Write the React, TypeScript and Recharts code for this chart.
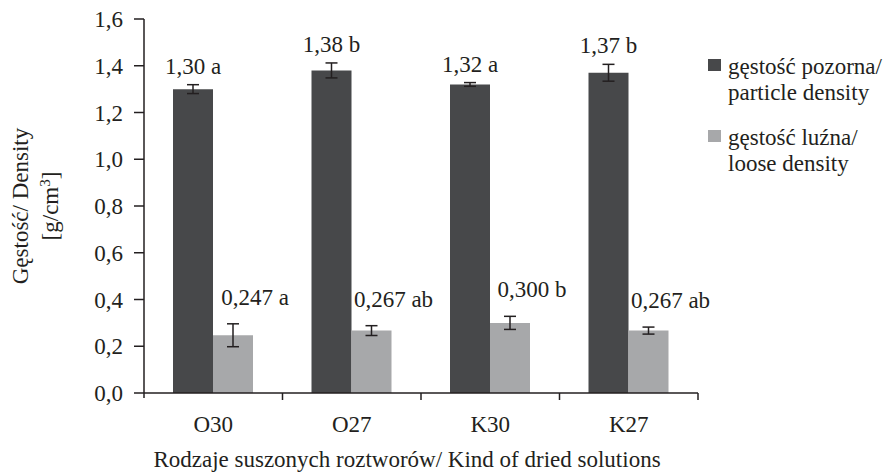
import { Bar, BarChart, ErrorBar, Label, LabelList, Legend, XAxis, YAxis } from 'recharts';

const CATEGORIES = ['O30', 'O27', 'K30', 'K27'];
const PARTICLE = [1.3, 1.38, 1.32, 1.37];
const PARTICLE_ERR = [0.019, 0.032, 0.008, 0.036];
const PARTICLE_LETTERS = ['a', 'b', 'a', 'b'];
const LOOSE = [0.247, 0.267, 0.3, 0.267];
const LOOSE_ERR = [0.049, 0.021, 0.028, 0.015];
const LOOSE_LETTERS = ['a', 'ab', 'b', 'ab'];
const Y_TICKS = [0, 0.2, 0.4, 0.6, 0.8, 1.0, 1.2, 1.4, 1.6];

const SERIES = [
  { key: 'particle', lines: ['gęstość pozorna/', 'particle density'], color: '#47484a' },
  { key: 'loose', lines: ['gęstość luźna/', 'loose density'], color: '#a7a8aa' },
];

const data = CATEGORIES.map((name, i) => ({
  name,
  particle: PARTICLE[i],
  particleErr: PARTICLE_ERR[i],
  loose: LOOSE[i],
  looseErr: LOOSE_ERR[i],
}));

const FONT = '"Liberation Serif", "Times New Roman", serif';
const INK = '#231f20';
const TXT = { fontFamily: FONT, fontSize: 23, fill: INK };

const comma = (v: number, digits: number) => v.toFixed(digits).replace('.', ',');

// value label sits above the error bar cap
function valueLabel(errs: number[], letters: string[], digits: number, dx: number, gap: number) {
  return (props: any) => {
    const { x, y, width, height, value, index } = props;
    const perUnit = height / value;
    const top = y - errs[index] * perUnit;
    return (
      <text x={x + width / 2 + dx} y={top - gap} textAnchor="middle" style={TXT}>
        {comma(value, digits)} {letters[index]}
      </text>
    );
  };
}

// category label plus tick marks on the category boundaries
function CategoryTick(props: any) {
  const { x, y, payload, index } = props;
  const half = payload.offset > 10 ? payload.offset : 69;
  return (
    <g>
      {index === 0 && <line x1={x - half} y1={y} x2={x - half} y2={y + 5} stroke={INK} strokeWidth={1.5} />}
      <line x1={x + half} y1={y} x2={x + half} y2={y + 7} stroke={INK} strokeWidth={1.5} />
      <text x={x} y={y + 39} textAnchor="middle" style={TXT}>
        {payload.value}
      </text>
    </g>
  );
}

function XTitle(props: any) {
  const { x, y, width } = props.viewBox;
  return (
    <text x={x + width / 2 - 14} y={y + 74} textAnchor="middle" style={TXT}>
      Rodzaje suszonych roztworów/ Kind of dried solutions
    </text>
  );
}

function YTitle() {
  return (
    <g transform="translate(0,206) rotate(-90)">
      <text x={0} y={28} textAnchor="middle" style={TXT}>
        Gęstość/ Density
      </text>
      <text x={0} y={58} textAnchor="middle" style={TXT}>
        [g/cm<tspan baselineShift="super" fontSize={15}>3</tspan>]
      </text>
    </g>
  );
}

function LegendBox() {
  return (
    <div style={{ fontFamily: FONT, fontSize: 23, color: INK, lineHeight: '26px' }}>
      {SERIES.map((s, i) => (
        <div key={s.key} style={{ display: 'flex', marginBottom: i === 0 ? 19 : 0 }}>
          <div style={{ width: 13, height: 12, background: s.color, marginTop: 5, marginRight: 7, flex: 'none' }} />
          <div style={{ whiteSpace: 'nowrap' }}>
            {s.lines.map((l) => (
              <div key={l}>{l}</div>
            ))}
          </div>
        </div>
      ))}
    </div>
  );
}

export default function App() {
  return (
    <div style={{ position: 'absolute', left: 0, top: 0, width: 891, height: 475, background: '#fff' }}>
      <BarChart
        width={891}
        height={475}
        data={data}
        margin={{ top: 19, right: 193, bottom: 32, left: 80 }}
        barSize={40}
        barGap={0}
      >
        <XAxis
          dataKey="name"
          interval={0}
          tickLine={false}
          tickSize={0}
          tickMargin={0}
          height={50}
          axisLine={{ stroke: INK, strokeWidth: 1.5 }}
          tick={<CategoryTick />}
        >
          <Label content={<XTitle />} />
        </XAxis>
        <YAxis
          domain={[0, 1.6]}
          ticks={Y_TICKS}
          interval={0}
          width={64}
          tickSize={10}
          tickMargin={11}
          tickFormatter={(v: number) => comma(v, 1)}
          tick={TXT}
          tickLine={{ stroke: INK, strokeWidth: 1.5 }}
          axisLine={{ stroke: INK, strokeWidth: 1.5 }}
        >
          <Label content={<YTitle />} />
        </YAxis>
        <Legend
          layout="vertical"
          align="center"
          verticalAlign="middle"
          content={<LegendBox />}
          wrapperStyle={{ position: 'absolute', left: 708, top: 54, width: 183 }}
        />
        <Bar dataKey="particle" name="gęstość pozorna/ particle density" fill={SERIES[0].color} isAnimationActive={false}>
          <ErrorBar dataKey="particleErr" width={6} stroke={INK} strokeWidth={1.5} isAnimationActive={false} />
          <LabelList dataKey="particle" content={valueLabel(PARTICLE_ERR, PARTICLE_LETTERS, 2, 0, 11)} />
        </Bar>
        <Bar dataKey="loose" name="gęstość luźna/ loose density" fill={SERIES[1].color} isAnimationActive={false}>
          <ErrorBar dataKey="looseErr" width={6} stroke={INK} strokeWidth={1.5} isAnimationActive={false} />
          <LabelList dataKey="loose" content={valueLabel(LOOSE_ERR, LOOSE_LETTERS, 3, 22, 19)} />
        </Bar>
      </BarChart>
    </div>
  );
}
